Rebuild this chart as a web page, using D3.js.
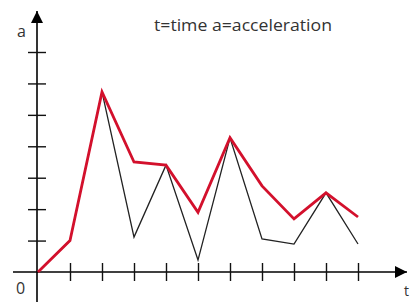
<!DOCTYPE html>
<html lang="en">
<head>
<meta charset="UTF-8">
<title>Acceleration</title>
<script src="https://cdn.jsdelivr.net/npm/d3@7"></script>
<style>
  body { margin: 0; background: #fff; }
  text { font-family: 'Open Sans', sans-serif; fill: #333; }
</style>
</head>
<body>
<div id="chart"></div>
<script>
// values
const times = [0, 1, 2, 3, 4, 5, 6, 7, 8, 9, 10]
const redA = [0, 1.0, 5.73, 3.5, 3.4, 1.9, 4.27, 2.74, 1.69, 2.52, 1.75]
const blackA = [0, 1.0, 5.73, 1.11, 3.4, 0.38, 4.27, 1.05, 0.89, 2.52, 0.89]
const xTicks = [1, 2, 3, 4, 5, 6, 7, 8, 9, 10]
const yTicks = [1, 2, 3, 4, 5, 6, 7]

const width = 412, height = 302
const ox = 37, oy = 272

const x = d3.scaleLinear().domain([0, 10]).range([38, 358])
const y = d3.scaleLinear().domain([0, 7]).range([oy, 52])

const svg = d3.select("#chart").append("svg")
  .attr("width", width)
  .attr("height", height)

svg.append("defs").append("marker")
  .attr("id", "arrow")
  .attr("viewBox", "0 0 10 10")
  .attr("refX", 10).attr("refY", 5)
  .attr("markerWidth", 12).attr("markerHeight", 12)
  .attr("markerUnits", "userSpaceOnUse")
  .attr("orient", "auto")
  .append("path")
  .attr("d", "M0,0 L10,5 L0,10 Z")
  .attr("fill", "#000")

// axis lines with arrows
svg.append("line")
  .attr("x1", 13).attr("y1", oy).attr("x2", 407).attr("y2", oy)
  .attr("stroke", "#000").attr("stroke-width", 1.6)
  .attr("marker-end", "url(#arrow)")
svg.append("line")
  .attr("x1", ox).attr("y1", 302).attr("x2", ox).attr("y2", 11)
  .attr("stroke", "#000").attr("stroke-width", 1.6)
  .attr("marker-end", "url(#arrow)")

// crossing tick marks
const xAxis = svg.append("g")
  .attr("transform", `translate(0,${oy - 9})`)
  .call(d3.axisBottom(x).tickValues(xTicks).tickSize(18).tickFormat(""))
const yAxis = svg.append("g")
  .attr("transform", `translate(${ox + 9},0)`)
  .call(d3.axisLeft(y).tickValues(yTicks).tickSize(18).tickFormat(""))
svg.selectAll(".domain").remove()
svg.selectAll(".tick line").attr("stroke", "#111").attr("stroke-width", 1.4)

const line = d3.line().x((d, i) => x(times[i])).y(d => y(d))

svg.append("path")
  .datum(blackA)
  .attr("d", line)
  .attr("fill", "none")
  .attr("stroke", "#222")
  .attr("stroke-width", 1.3)

svg.append("path")
  .datum(redA)
  .attr("d", line)
  .attr("fill", "none")
  .attr("stroke", "#d3102c")
  .attr("stroke-width", 2.8)
  .attr("stroke-linejoin", "miter")

// labels
svg.append("text").attr("x", 17).attr("y", 37).attr("font-size", 16).text("a")
svg.append("text").attr("x", 16).attr("y", 294).attr("font-size", 16).text("0")
svg.append("text").attr("x", 404).attr("y", 296).attr("font-size", 14).text("t")
svg.append("text").attr("x", 154).attr("y", 31).attr("font-size", 16)
  .attr("textLength", 178).attr("lengthAdjust", "spacingAndGlyphs")
  .text("t=time a=acceleration")
</script>
</body>
</html>
